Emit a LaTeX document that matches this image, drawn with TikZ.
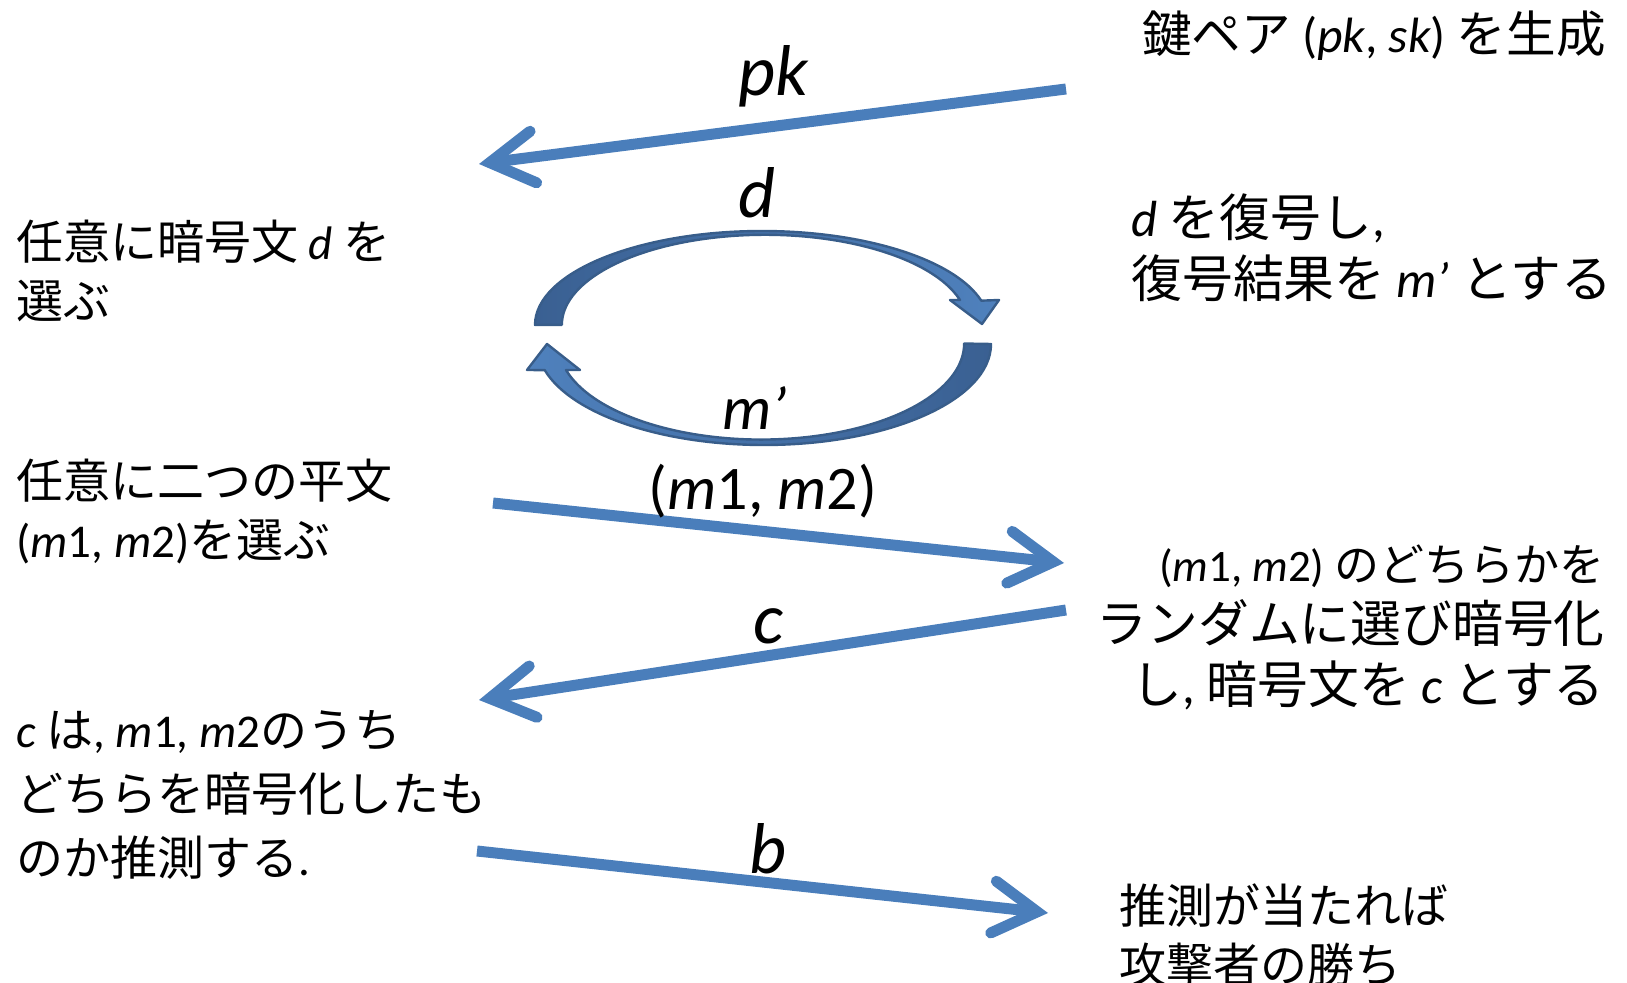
\documentclass[tikz,border=0pt]{standalone}
\usepackage{fontspec}
\setmainfont{Noto Sans CJK JP}
\newfontfamily\latfont{Carlito}
\newcommand\vi[1]{{\latfont\itshape #1}}
\newcommand\la[1]{{\latfont #1}}
\usetikzlibrary{arrows.meta}
\definecolor{msgblue}{RGB}{74,126,187}
\definecolor{loopblue}{RGB}{79,129,189}
\definecolor{loopdark}{RGB}{58,96,146}
\definecolor{loopedge}{RGB}{56,93,138}
\tikzset{
  msg/.style={draw=msgblue, line width=5.5pt, -{Straight Barb[length=22pt,width=26pt,line cap=round]}},
  lbl/.style={inner sep=0pt, font=\fontsize{31}{37}\selectfont},
  biglbl/.style={inner sep=0pt, font=\fontsize{36}{42}\selectfont},
  say/.style={inner sep=0pt, font=\fontsize{23.5}{29.5}\selectfont},
  bigsay/.style={inner sep=0pt, font=\fontsize{25.4}{30.5}\selectfont},
  loop/.style={draw=loopedge, line width=1.2pt, line join=round}
}
\begin{document}
\begin{tikzpicture}[x=0.5pt,y=-0.5pt]
  \useasboundingbox (0,0) rectangle (1627,983);
  % what each side does
  \node[say, anchor=east, font=\fontsize{24.8}{30}\selectfont] (keygen) at (1606,36) {鍵ペア \la{(\vi{pk}, \vi{sk})} を生成};
  \node[say, align=left, anchor=west] (pickd) at (16,271) {任意に暗号文 \vi{d} を\\選ぶ};
  \node[bigsay, align=left, anchor=west] (decrypt) at (1131,248) {\vi{d} を復号し\la{,}\\復号結果を \vi{m’} とする};
  \node[say, align=left, anchor=west] (pickm) at (16,512) {任意に二つの平文\\\la{(\vi{m}1, \vi{m}2)}を選ぶ};
  \node[bigsay, align=right, anchor=east] (encrypt) at (1605,627) {{\fontsize{22.5}{30.5}\selectfont\la{(\vi{m}1, \vi{m}2)} のどちらかを}\\ランダムに選び暗号化\\し\la{,} 暗号文を \vi{c} とする};
  \node[say, align=left, anchor=west, font=\fontsize{23.5}{32}\selectfont] (guess) at (16,795) {\vi{c} は\la{, \vi{m}1, \vi{m}2}のうち\\どちらを暗号化したも\\のか推測する\la{.}};
  \node[say, align=left, anchor=west] (win) at (1119,935) {推測が当たれば\\攻撃者の勝ち};

  % messages
  \coordinate (pkstart) at (1066,89);
  \coordinate (pkend) at (479,164);
  \draw[msg] (pkstart) -- (pkend);
  \node[biglbl] (pk) at (773,76) {\vi{pk}};

  \coordinate (mstart) at (493,503);
  \coordinate (mend) at (1064,563);
  \draw[msg] (mstart) -- (mend);
  \node[lbl] (mpair) at (763,491) {\la{(\vi{m}1, \vi{m}2)}};

  \coordinate (cstart) at (1066,610);
  \coordinate (cend) at (479,700);
  \draw[msg] (cstart) -- (cend);
  \node[biglbl] (c) at (768,626) {\vi{c}};

  \coordinate (bstart) at (477,851);
  \coordinate (bend) at (1048,913);
  \draw[msg] (bstart) -- (bend);
  \node[biglbl] (b) at (768,849) {\vi{b}};

  % decryption query loop
  \draw[loop, left color=loopdark, right color=loopblue]
    (535,325) arc[start angle=180, end angle=345, x radius=227, y radius=94]
    -- (999,300) -- (982,324) -- (950,300) -- (960,300)
    arc[start angle=344, end angle=180, x radius=203, y radius=90] -- cycle;
  \draw[loop, left color=loopblue, right color=loopdark]
    (991,344) arc[start angle=0, end angle=165, x radius=227, y radius=101]
    -- (527,370) -- (547,344) -- (580,370) -- (566,370)
    arc[start angle=164, end angle=0, x radius=203, y radius=96] -- cycle;
  \node[biglbl] (d) at (757,193) {\vi{d}};
  \node[lbl] (mdash) at (755,408) {\vi{m’}};
\end{tikzpicture}
\end{document}
